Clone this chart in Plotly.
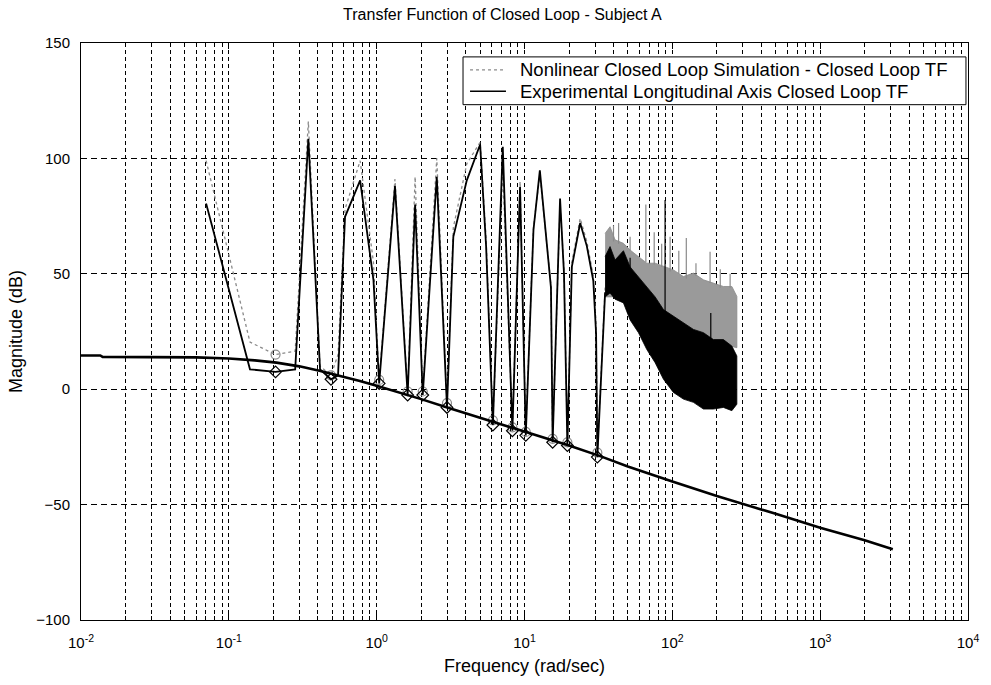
import plotly.graph_objects as go

# ---------------- data ----------------
# smooth model curve
model_f = [0.01, 0.0135, 0.014, 0.03, 0.06, 0.1, 0.15, 0.21, 0.3, 0.41, 0.6, 0.77, 1.0, 1.5, 2.0,
           3.0, 5.0, 7.0, 10.0, 15.0, 20.0, 32.5, 50.0, 100.0, 200.0, 500.0, 1000.0, 2000.0, 3100.0]
model_db = [14.6, 14.6, 14.0, 14.0, 13.8, 13.3, 12.5, 11.5, 9.9, 8.0, 5.4, 3.6, 1.5, -1.8, -4.3,
            -7.9, -12.3, -15.3, -18.4, -21.9, -24.4, -29.0, -33.5, -40.0, -46.3, -54.0, -60.0, -65.5, -69.3]

# experimental closed loop TF (spiky curve, up to ~35 rad/s)
exp_f = [0.0702, 0.139, 0.207, 0.281, 0.345, 0.414, 0.491, 0.548, 0.611, 0.773, 0.951, 1.04, 1.33,
         1.62, 1.82, 2.05, 2.55, 2.99, 3.30, 4.07, 5.01, 5.50, 6.11, 7.13, 8.28, 9.33, 10.2, 11.5,
         12.7, 14.0, 15.1, 15.5, 17.0, 17.4, 18.5, 19.5, 20.9, 23.0, 23.8, 26.4, 29.2, 30.5, 31.1, 35.1]
exp_db = [80.5, 8.6, 7.5, 8.6, 108.5, 8.6, 4.3, 6.0, 74.7, 90.5, 47.4, 2.5, 88.0,
          -2.5, 80.0, -2.5, 92.0, -7.9, 66.0, 90.5, 106.0, 61.8, -15.5, 105.0, -18.0, 87.6, -20.0, 69.0,
          94.8, 65.0, 44.0, -23.0, 55.0, 82.6, 50.0, -24.4, 53.0, 66.0, 72.0, 62.0, 47.0, 24.0, -29.4, 42.0]

# nonlinear closed loop simulation TF
sim_f = exp_f
sim_db = [99.0, 20.4, 15.0, 16.5, 116.0, 10.0, 6.0, 15.0, 78.0, 99.0, 55.0, 4.0, 91.0,
          -1.0, 92.0, -1.0, 100.0, -6.0, 70.0, 97.7, 107.0, 65.0, -13.5, 95.0, -16.5, 90.0, -18.5, 70.0,
          93.0, 67.0, 45.0, -21.5, 57.0, 80.0, 52.0, -23.0, 55.0, 68.0, 74.0, 64.0, 49.0, 28.0, -27.5, 44.0]

# input (excitation) frequencies: marker points
mark_f = [0.207, 0.491, 1.04, 1.62, 2.05, 2.99, 6.11, 8.28, 10.2, 15.5, 19.5, 31.1]
exp_mark_db = [7.5, 4.3, 2.5, -2.5, -2.5, -7.9, -15.5, -18.0, -20.0, -23.0, -24.4, -29.4]
sim_mark_db = [15.0, 6.0, 4.0, -1.0, -1.0, -6.0, -13.5, -16.5, -18.5, -21.5, -23.0, -27.5]

# high-frequency noisy region: envelopes of the dense oscillation
band_f = [35.1, 37.9, 41.0, 46.7, 51.8, 59.0, 67.2, 76.5, 87.1, 101.7, 118.8, 138.9, 162.3,
          189.6, 221.6, 252.7, 273.2]
exp_upper = [57.5, 61.8, 56.0, 60.0, 53.0, 48.8, 44.5, 40.0, 34.5, 31.6, 28.7, 25.9, 24.5,
             21.5, 21.5, 18.7, 14.4]
exp_lower = [40.0, 41.7, 39.0, 37.4, 30.0, 24.5, 17.2, 11.5, 4.3, -1.4, -4.3, -5.7, -8.6,
             -8.6, -7.9, -9.3, -6.5]
sim_upper = [67.5, 70.4, 64.7, 63.2, 60.3, 57.5, 54.6, 54.6, 53.2, 51.7, 48.8, 50.3, 47.4,
             46.0, 44.5, 44.5, 40.2]
sim_lower = [40.0, 40.0, 40.0, 40.0, 39.0, 38.0, 35.0, 33.0, 30.0, 26.0, 23.0, 21.0, 20.0,
             19.0, 19.0, 18.5, 18.0]

# isolated spikes rising above the noisy band
sim_spike_f = [40.0, 43.3, 51.8, 66.2, 75.4, 84.7, 96.6, 110.6, 124.3, 144.5, 180.0, 211.0, 246.0]
sim_spike_top = [71.0, 72.0, 66.0, 80.0, 68.0, 63.0, 66.0, 60.0, 65.5, 54.6, 59.6, 52.0, 50.0]
sim_spike_base = [64.0, 63.0, 60.0, 55.0, 54.0, 53.0, 51.0, 50.0, 48.0, 49.0, 46.0, 44.0, 44.0]
exp_spike_f = [51.8, 89.3, 182.0]
exp_spike_top = [57.0, 82.0, 33.0]
exp_spike_base = [40.0, 30.0, 10.0]

# axis ticks
x_tickvals = [0.01, 0.1, 1, 10, 100, 1000, 10000]
x_ticktext = ["10<sup>-2</sup>", "10<sup>-1</sup>", "10<sup>0</sup>", "10<sup>1</sup>",
              "10<sup>2</sup>", "10<sup>3</sup>", "10<sup>4</sup>"]
y_tickvals = [-100, -50, 0, 50, 100, 150]

SIM_NAME = "Nonlinear Closed Loop Simulation - Closed Loop TF"
EXP_NAME = "Experimental Longitudinal Axis Closed Loop TF"

# ---------------- figure ----------------
GRAY = "#8a8a8a"
fig = go.Figure()

# simulation band + spikes
fig.add_trace(go.Scatter(x=band_f + band_f[::-1], y=sim_upper + sim_lower[::-1],
                         fill="toself", fillcolor="#9a9a9a", mode="lines",
                         line=dict(color=GRAY, width=0.8), showlegend=False, hoverinfo="skip"))
sx, sy = [], []
for f, b, t in zip(sim_spike_f, sim_spike_base, sim_spike_top):
    sx += [f, f, None]
    sy += [b, t, None]
fig.add_trace(go.Scatter(x=sx, y=sy, mode="lines", line=dict(color=GRAY, width=1.2),
                         showlegend=False, hoverinfo="skip"))

# simulation curve
fig.add_trace(go.Scatter(x=sim_f, y=sim_db, mode="lines", name=SIM_NAME, showlegend=False,
                         line=dict(color=GRAY, width=1.3, dash="dot")))
fig.add_trace(go.Scatter(x=mark_f, y=sim_mark_db, mode="markers", showlegend=False,
                         marker=dict(symbol="circle-open", size=9, color=GRAY, line=dict(width=1.2))))

# experimental band + spikes
fig.add_trace(go.Scatter(x=band_f + band_f[::-1], y=exp_upper + exp_lower[::-1],
                         fill="toself", fillcolor="black", mode="lines",
                         line=dict(color="black", width=0.8), showlegend=False, hoverinfo="skip"))
ex, ey = [], []
for f, b, t in zip(exp_spike_f, exp_spike_base, exp_spike_top):
    ex += [f, f, None]
    ey += [b, t, None]
fig.add_trace(go.Scatter(x=ex, y=ey, mode="lines", line=dict(color="black", width=1.2),
                         showlegend=False, hoverinfo="skip"))

# experimental curve
fig.add_trace(go.Scatter(x=exp_f, y=exp_db, mode="lines", name=EXP_NAME, showlegend=False,
                         line=dict(color="black", width=1.8)))
fig.add_trace(go.Scatter(x=mark_f, y=exp_mark_db, mode="markers", showlegend=False,
                         marker=dict(symbol="diamond-open", size=9, color="black", line=dict(width=1.2))))

# smooth model curve
fig.add_trace(go.Scatter(x=model_f, y=model_db, mode="lines", showlegend=False,
                         line=dict(color="black", width=2.6)))

# ----- legend box (MATLAB style, drawn in paper coordinates) -----
LX0, LX1, LY0, LY1 = 0.4307, 0.9977, 0.8931, 0.9759
ROW1, ROW2 = 0.9534, 0.9164
SAMPLE_X0, SAMPLE_X1, TEXT_X = 0.4386, 0.4791, 0.4930
fig.add_shape(type="rect", xref="paper", yref="paper", x0=LX0, x1=LX1, y0=LY0, y1=LY1,
              line=dict(color="black", width=1), fillcolor="white", layer="above")
fig.add_shape(type="line", xref="paper", yref="paper", x0=SAMPLE_X0, x1=SAMPLE_X1, y0=ROW1, y1=ROW1,
              line=dict(color=GRAY, width=1.3, dash="dot"), layer="above")
fig.add_shape(type="line", xref="paper", yref="paper", x0=SAMPLE_X0, x1=SAMPLE_X1, y0=ROW2, y1=ROW2,
              line=dict(color="black", width=1.6), layer="above")
for row, txt in ((ROW1, SIM_NAME), (ROW2, EXP_NAME)):
    fig.add_annotation(xref="paper", yref="paper", x=TEXT_X, y=row, text=txt, showarrow=False,
                       xanchor="left", yanchor="middle", font=dict(size=18.5))

minor_x = [k * 10.0 ** d for d in range(-2, 4) for k in range(2, 10)]

FONT = "Liberation Sans, Arial, sans-serif"
fig.update_layout(
    width=991, height=685,
    margin=dict(l=81, r=23, t=43, b=62),
    paper_bgcolor="white", plot_bgcolor="white",
    font=dict(family=FONT, size=15, color="black"),
    title=dict(text="Transfer Function of Closed Loop - Subject A", x=0.507, xanchor="center",
               y=1 - 14 / 685, yanchor="middle", font=dict(size=16)),
    showlegend=False,
)
fig.update_xaxes(type="log", range=[-2, 4], tickvals=x_tickvals, ticktext=x_ticktext,
                 showline=True, linecolor="black", linewidth=1, mirror="allticks",
                 ticks="inside", ticklen=6, tickcolor="black", ticklabelstandoff=9,
                 showgrid=True, gridcolor="black", gridwidth=1, griddash="4px,3px",
                 minor=dict(tickvals=minor_x, ticks="inside", ticklen=4, tickcolor="black",
                            showgrid=True, gridcolor="black", gridwidth=1, griddash="4px,3px"),
                 title=dict(text="Frequency (rad/sec)", standoff=9), zeroline=False)
fig.update_yaxes(range=[-100, 150], tickvals=y_tickvals,
                 showline=True, linecolor="black", linewidth=1, mirror="allticks",
                 ticks="inside", ticklen=6, tickcolor="black", ticklabelstandoff=7,
                 showgrid=True, gridcolor="black", gridwidth=1, griddash="6px,4px",
                 title=dict(text="Magnitude (dB)", standoff=8), zeroline=False)

fig.write_html("out.html", config={"displayModeBar": False},
               post_script="document.body.style.margin='0';")
